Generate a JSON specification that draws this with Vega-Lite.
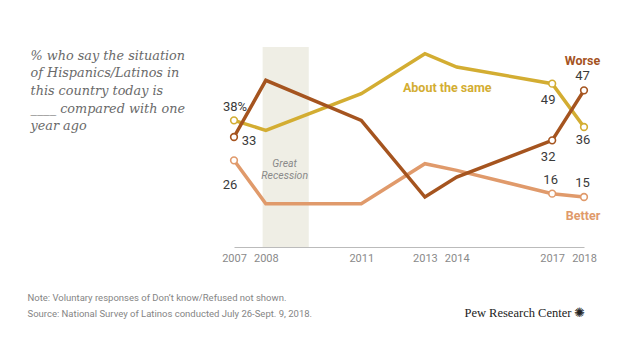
{
  "$schema": "https://vega.github.io/schema/vega-lite/v6.json",
  "width": 350,
  "height": 200,
  "autosize": {"type": "none"},
  "padding": {"left": 234, "top": 47, "right": 56, "bottom": 113},
  "background": "white",
  "config": {"view": {"stroke": null}},
  "data": {
    "values": [
      {"series": "Better", "year": 2007, "value": 26},
      {"series": "Better", "year": 2008, "value": 13},
      {"series": "Better", "year": 2011, "value": 13},
      {"series": "Better", "year": 2013, "value": 25},
      {"series": "Better", "year": 2014, "value": 23},
      {"series": "Better", "year": 2017, "value": 16},
      {"series": "Better", "year": 2018, "value": 15},
      {"series": "About the same", "year": 2007, "value": 38},
      {"series": "About the same", "year": 2008, "value": 35},
      {"series": "About the same", "year": 2011, "value": 46},
      {"series": "About the same", "year": 2013, "value": 58},
      {"series": "About the same", "year": 2014, "value": 54},
      {"series": "About the same", "year": 2017, "value": 49},
      {"series": "About the same", "year": 2018, "value": 36},
      {"series": "Worse", "year": 2007, "value": 33},
      {"series": "Worse", "year": 2008, "value": 50},
      {"series": "Worse", "year": 2011, "value": 38},
      {"series": "Worse", "year": 2013, "value": 15},
      {"series": "Worse", "year": 2014, "value": 21},
      {"series": "Worse", "year": 2017, "value": 32},
      {"series": "Worse", "year": 2018, "value": 47}
    ]
  },
  "resolve": {"axis": {"y": "independent", "x": "independent"}},
  "layer": [
    {
      "data": {"values": [{"start": 2007.9, "end": 2009.35, "label": "Great Recession"}]},
      "mark": {"type": "rect", "color": "#efeee5"},
      "encoding": {
        "x": {"field": "start", "type": "quantitative", "scale": {"domain": [2007, 2018], "nice": false, "zero": false}, "axis": null},
        "x2": {"field": "end"}
      }
    },
    {
      "data": {"values": [{"start": 2007.9, "end": 2009.35, "label": "Great Recession"}]},
      "mark": {"type": "text", "align": "center", "baseline": "alphabetic", "dx": 22, "lineBreak": " ", "lineHeight": 12, "font": "Roboto", "fontSize": 10.5, "fontStyle": "italic", "color": "#8a8a8a"},
      "encoding": {
        "x": {"field": "start", "type": "quantitative", "axis": null},
        "y": {"datum": 24, "type": "quantitative", "axis": null},
        "text": {"field": "label"}
      }
    },
    {
      "mark": {"type": "line", "strokeWidth": 3.5, "strokeJoin": "miter"},
      "encoding": {
        "x": {
          "field": "year", "type": "quantitative",
          "scale": {"domain": [2007, 2018], "nice": false, "zero": false},
          "axis": {
            "orient": "bottom",
            "values": [2007, 2008, 2011, 2013, 2014, 2017, 2018],
            "format": "d", "ticks": false, "grid": false,
            "labelOverlap": false, "labelFlush": false, "labelBound": false,
            "domainColor": "#bbbbbb", "domainWidth": 1,
            "labelFont": "Roboto", "labelFontSize": 11, "labelColor": "#8a8a8a", "labelPadding": 5,
            "title": ["Note: Voluntary responses of Don’t know/Refused not shown.", "Source: National Survey of Latinos conducted July 26-Sept. 9, 2018."],
            "titleFont": "Roboto", "titleFontSize": 9.5, "titleFontWeight": "normal", "titleColor": "#858585",
            "titleAlign": "left", "titleAnchor": null, "titleBaseline": "alphabetic", "titleAngle": 0,
            "titleX": -207, "titleY": 53, "titleLineHeight": 16.5
          }
        },
        "y": {
          "field": "value", "type": "quantitative",
          "scale": {"domain": [0, 60], "nice": false, "zero": true},
          "axis": {
            "orient": "left", "domain": false, "ticks": false, "labels": false, "grid": false,
            "title": ["% who say the situation", "of Hispanics/Latinos in", "this country today is", "____ compared with one", "year ago"],
            "titleFont": "DejaVu Serif", "titleFontSize": 12.8, "titleFontStyle": "italic", "titleFontWeight": "normal", "titleColor": "#6a6a6a",
            "titleAlign": "left", "titleAnchor": null, "titleBaseline": "alphabetic", "titleAngle": 0,
            "titleX": -204, "titleY": 12, "titleLineHeight": 17.7
          }
        },
        "color": {
          "field": "series", "type": "nominal",
          "scale": {"domain": ["About the same", "Worse", "Better"], "range": ["#d3ad32", "#a5541f", "#e09a6b"]},
          "legend": null
        }
      }
    },
    {
      "transform": [{"filter": "datum.year == 2007 || datum.year == 2017 || datum.year == 2018"}],
      "mark": {"type": "point", "filled": false, "fill": "white", "strokeWidth": 1.6, "size": 45, "opacity": 1},
      "encoding": {
        "x": {"field": "year", "type": "quantitative", "axis": null},
        "y": {
          "field": "value", "type": "quantitative",
          "axis": {
            "orient": "right", "domain": false, "ticks": false, "labels": false, "grid": false,
            "title": "Pew Research Center ✺",
            "titleFont": "Liberation Serif", "titleFontSize": 12.5, "titleFontWeight": "normal", "titleColor": "#222222",
            "titleAlign": "right", "titleAnchor": null, "titleBaseline": "alphabetic", "titleAngle": 0,
            "titleX": 1, "titleY": 269
          }
        },
        "color": {"field": "series", "type": "nominal", "legend": null}
      }
    },
    {
      "transform": [
        {"filter": "datum.year == 2014 && datum.series == 'About the same'"}
      ],
      "mark": {"type": "text", "align": "center", "baseline": "middle", "dx": -9.5, "dy": 21, "font": "Roboto", "fontSize": 12.5, "fontWeight": "bold"},
      "encoding": {
        "x": {"field": "year", "type": "quantitative", "axis": null},
        "y": {"field": "value", "type": "quantitative", "axis": null},
        "text": {"field": "series"},
        "color": {"field": "series", "type": "nominal", "legend": null}
      }
    },
    {
      "transform": [{"filter": "datum.year == 2018 && datum.series == 'Worse'"}],
      "mark": {"type": "text", "align": "center", "baseline": "middle", "dx": -1.5, "dy": -29, "font": "Roboto", "fontSize": 12.5, "fontWeight": "bold"},
      "encoding": {
        "x": {"field": "year", "type": "quantitative", "axis": null},
        "y": {"field": "value", "type": "quantitative", "axis": null},
        "text": {"field": "series"},
        "color": {"field": "series", "type": "nominal", "legend": null}
      }
    },
    {
      "transform": [{"filter": "datum.year == 2018 && datum.series == 'Better'"}],
      "mark": {"type": "text", "align": "center", "baseline": "middle", "dx": -1, "dy": 19, "font": "Roboto", "fontSize": 12.5, "fontWeight": "bold"},
      "encoding": {
        "x": {"field": "year", "type": "quantitative", "axis": null},
        "y": {"field": "value", "type": "quantitative", "axis": null},
        "text": {"field": "series"},
        "color": {"field": "series", "type": "nominal", "legend": null}
      }
    },
    {
      "transform": [
        {"filter": "datum.year == 2007 && datum.series == 'About the same'"},
        {"calculate": "datum.value + '%'", "as": "lbl"}
      ],
      "mark": {"type": "text", "align": "center", "baseline": "middle", "dx": 1, "dy": -13, "font": "Roboto", "fontSize": 13, "color": "#3a3a3a"},
      "encoding": {
        "x": {"field": "year", "type": "quantitative", "axis": null},
        "y": {"field": "value", "type": "quantitative", "axis": null},
        "text": {"field": "lbl"}
      }
    },
    {
      "transform": [{"filter": "datum.year == 2007 && datum.series == 'Worse'"}],
      "mark": {"type": "text", "align": "center", "baseline": "middle", "dx": 15, "dy": 4, "font": "Roboto", "fontSize": 13, "color": "#3a3a3a"},
      "encoding": {
        "x": {"field": "year", "type": "quantitative", "axis": null},
        "y": {"field": "value", "type": "quantitative", "axis": null},
        "text": {"field": "value", "type": "quantitative", "format": "d"}
      }
    },
    {
      "transform": [{"filter": "datum.year == 2007 && datum.series == 'Better'"}],
      "mark": {"type": "text", "align": "center", "baseline": "middle", "dx": -4, "dy": 25, "font": "Roboto", "fontSize": 13, "color": "#3a3a3a"},
      "encoding": {
        "x": {"field": "year", "type": "quantitative", "axis": null},
        "y": {"field": "value", "type": "quantitative", "axis": null},
        "text": {"field": "value", "type": "quantitative", "format": "d"}
      }
    },
    {
      "transform": [{"filter": "(datum.year == 2018 && datum.series != 'About the same') || (datum.year == 2017 && datum.series == 'Better')"}],
      "mark": {"type": "text", "align": "center", "baseline": "middle", "dx": -1.5, "dy": -14, "font": "Roboto", "fontSize": 13, "color": "#3a3a3a"},
      "encoding": {
        "x": {"field": "year", "type": "quantitative", "axis": null},
        "y": {"field": "value", "type": "quantitative", "axis": null},
        "text": {"field": "value", "type": "quantitative", "format": "d"}
      }
    },
    {
      "transform": [{"filter": "datum.year == 2017 && datum.series != 'Better'"}],
      "mark": {"type": "text", "align": "center", "baseline": "middle", "dx": -4, "dy": 16.5, "font": "Roboto", "fontSize": 13, "color": "#3a3a3a"},
      "encoding": {
        "x": {"field": "year", "type": "quantitative", "axis": null},
        "y": {"field": "value", "type": "quantitative", "axis": null},
        "text": {"field": "value", "type": "quantitative", "format": "d"}
      }
    },
    {
      "transform": [{"filter": "datum.year == 2018 && datum.series == 'About the same'"}],
      "mark": {"type": "text", "align": "center", "baseline": "middle", "dx": -1, "dy": 12.5, "font": "Roboto", "fontSize": 13, "color": "#3a3a3a"},
      "encoding": {
        "x": {"field": "year", "type": "quantitative", "axis": null},
        "y": {"field": "value", "type": "quantitative", "axis": null},
        "text": {"field": "value", "type": "quantitative", "format": "d"}
      }
    }
  ]
}
